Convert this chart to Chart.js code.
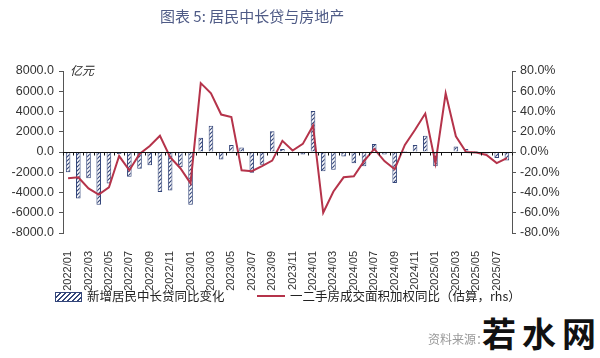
<!DOCTYPE html>
<html>
<head>
<meta charset="utf-8">
<script src="https://cdn.jsdelivr.net/npm/chart.js@4/dist/chart.umd.min.js"></script>
<style>
  html, body { margin: 0; padding: 0; background: #fff; }
  #wrap { position: relative; width: 600px; height: 358px; overflow: hidden; }
  #c { position: absolute; left: 0; top: 0; }
  .t { position: absolute; white-space: nowrap; font-family: "Noto Sans CJK SC", sans-serif; }
  #title { left: 160px; top: 5px; font-size: 15px; color: #4f5b86; }
  #unit { left: 70px; top: 61px; font-size: 12px; color: #222; font-style: italic; }
  #lg1box { position: absolute; left: 55px; top: 292px; width: 25px; height: 8px; border: 1px solid #34467a;
    background: repeating-linear-gradient(-45deg, #fff 0 2px, #34467a 2px 3.5px); }
  #lg1 { left: 87px; top: 286px; font-size: 12.5px; color: #222; }
  #lg2line { position: absolute; left: 257px; top: 295px; width: 28px; height: 2px; background: #b5334a; }
  #lg2 { left: 290px; top: 286px; font-size: 12.5px; color: #222; }
  #src { left: 428px; top: 330px; font-size: 12px; color: #999; }
  #wm { left: 482px; top: 308px; font-size: 34px; font-weight: bold; color: #111; letter-spacing: 6px; background: #fff; }
</style>
</head>
<body>
<div id="wrap">
  <canvas id="c" width="600" height="358"></canvas>
  <div class="t" id="title">图表 5: 居民中长贷与房地产</div>
  <div class="t" id="unit">亿元</div>
  <div id="lg1box"></div>
  <div class="t" id="lg1">新增居民中长贷同比变化</div>
  <div id="lg2line"></div>
  <div class="t" id="lg2">一二手房成交面积加权同比（估算，rhs）</div>
  <div class="t" id="src">资料来源：</div>
  <div class="t" id="wm">若水网</div>
</div>
<script>
  // months 2022/01 .. 2025/08
  const months = [];
  for (let y = 2022; y <= 2025; y++) {
    for (let m = 1; m <= 12; m++) {
      if (y === 2025 && m > 8) break;
      months.push(y + '/' + String(m).padStart(2, '0'));
    }
  }

  // 新增居民中长贷同比变化 (亿元)
  const loanChange = [
    -2000, -4600, -2600, -5200, -3100, -200, -2450, -1650, -1300, -3950, -3800, -1500,
    -5200, 1400, 2600, -750, 700, 450, -2050, -1250, 2050, 300, -50, -250,
    4050, -1900, -1750, -450, -1100, -1400, 800, -250, -3050, 100, 700, 1600,
    -1400, -100, 550, 300, 100, -150, -600, -850
  ];

  // 一二手房成交面积加权同比 (估算, %)
  const houseYoY = [
    -26, -25, -36, -42, -35, -4, -18, -2, 6, 16, -5, -16,
    -31, 68, 58, 37, 34.5, -18, -19, -14, -8.5, 11, 1.5, 8,
    26, -60, -39, -25, -24, -9, 3, -9, -17, 7, 22, 38,
    -11, 58, 15.5, 0, -0.5, -3, -11, -6
  ];

  const leftTicks = [-8000, -6000, -4000, -2000, 0, 2000, 4000, 6000, 8000];
  const rightTicks = [-80, -60, -40, -20, 0, 20, 40, 60, 80];

  const navy = '#34467a';
  const red = '#b5334a';

  function hatch() {
    const p = document.createElement('canvas');
    p.width = 4; p.height = 4;
    const g = p.getContext('2d');
    g.fillStyle = '#fff';
    g.fillRect(0, 0, 4, 4);
    g.strokeStyle = navy;
    g.lineWidth = 1.2;
    g.beginPath();
    g.moveTo(0, 4); g.lineTo(4, 0);
    g.moveTo(-1, 1); g.lineTo(1, -1);
    g.moveTo(3, 5); g.lineTo(5, 3);
    g.stroke();
    return g.createPattern(p, 'repeat');
  }

  // zero line with small ticks
  const zeroLine = {
    id: 'zeroLine',
    afterDatasetsDraw(chart) {
      const { ctx, chartArea, scales } = chart;
      const y0 = Math.round(scales.y.getPixelForValue(0)) + 0.5;
      ctx.save();
      ctx.strokeStyle = '#111';
      ctx.lineWidth = 1;
      ctx.beginPath();
      ctx.moveTo(chartArea.left, y0);
      ctx.lineTo(chartArea.right, y0);
      const step = (chartArea.right - chartArea.left) / months.length;
      for (let i = 0; i <= months.length; i++) {
        const x = Math.round(chartArea.left + i * step) + 0.5;
        ctx.moveTo(x, y0);
        ctx.lineTo(x, y0 + 3);
      }
      ctx.stroke();
      ctx.restore();
    }
  };

  const tickFont = { family: 'Arial, "Liberation Sans", sans-serif', size: 12.5 };

  new Chart(document.getElementById('c'), {
    data: {
      labels: months,
      datasets: [
        {
          type: 'line',
          label: '一二手房成交面积加权同比（估算，rhs）',
          data: houseYoY,
          yAxisID: 'y1',
          borderColor: red,
          borderWidth: 2,
          pointRadius: 0,
          tension: 0,
          order: 0
        },
        {
          type: 'bar',
          label: '新增居民中长贷同比变化',
          data: loanChange,
          yAxisID: 'y',
          backgroundColor: hatch(),
          borderColor: navy,
          borderWidth: 1,
          categoryPercentage: 1,
          barPercentage: 0.45,
          order: 1
        }
      ]
    },
    options: {
      responsive: false,
      animation: false,
      layout: { padding: { top: 71, bottom: 0, left: 0, right: 0 } },
      plugins: {
        legend: { display: false },
        tooltip: { enabled: false }
      },
      scales: {
        x: {
          position: 'bottom',
          grid: { display: false },
          border: { display: false },
          ticks: {
            autoSkip: false,
            maxRotation: 90,
            minRotation: 90,
            padding: 10,
            color: '#333',
            font: { family: 'Arial, "Liberation Sans", sans-serif', size: 11 },
            callback: function (v, i) { return i % 2 === 0 ? months[i] : ''; }
          },
          afterFit: function (s) { s.height = 358 - 233; }
        },
        y: {
          position: 'left',
          min: -8000,
          max: 8000,
          afterBuildTicks: function (s) { s.ticks = leftTicks.map(v => ({ value: v })); },
          grid: { drawOnChartArea: false, drawTicks: true, tickLength: 4, color: '#555' },
          border: { display: true, color: '#555' },
          ticks: {
            color: '#333',
            font: tickFont,
            padding: 5,
            callback: v => v.toFixed(1)
          },
          afterFit: function (s) { s.width = 63; }
        },
        y1: {
          position: 'right',
          min: -80,
          max: 80,
          afterBuildTicks: function (s) { s.ticks = rightTicks.map(v => ({ value: v })); },
          grid: { drawOnChartArea: false, drawTicks: true, tickLength: 4, color: '#555' },
          border: { display: true, color: '#555' },
          ticks: {
            color: '#333',
            font: tickFont,
            padding: 4,
            callback: v => v.toFixed(1) + '%'
          },
          afterFit: function (s) { s.width = 88; }
        }
      }
    },
    plugins: [zeroLine]
  });
</script>
</body>
</html>
